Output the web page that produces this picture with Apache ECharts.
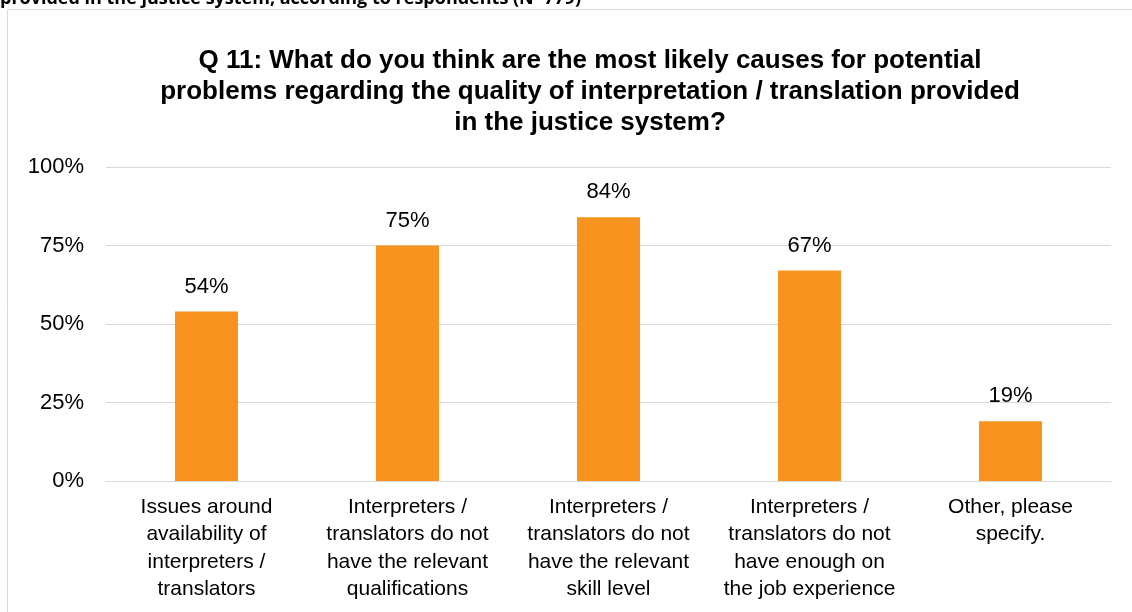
<!DOCTYPE html>
<html>
<head>
<meta charset="utf-8">
<style>
  html, body { margin: 0; padding: 0; background: #ffffff; }
  #chart { width: 1132px; height: 612px; }
</style>
<script src="https://cdn.jsdelivr.net/npm/echarts@6/dist/echarts.min.js"></script>
</head>
<body>
<div id="chart"></div>
<script>
// Survey question Q 11: likely causes of interpretation / translation quality problems
const categories = [
  'Issues around\navailability of\ninterpreters /\ntranslators',
  'Interpreters /\ntranslators do not\nhave the relevant\nqualifications',
  'Interpreters /\ntranslators do not\nhave the relevant\nskill level',
  'Interpreters /\ntranslators do not\nhave enough on\nthe job experience',
  'Other, please\nspecify.'
];
const shares = [54, 75, 84, 67, 19];
const yTicks = [0, 25, 50, 75, 100];

const FONT = '"Liberation Sans", Arial, sans-serif';
const chart = echarts.init(document.getElementById('chart'), null, { renderer: 'canvas' });

chart.setOption({
  backgroundColor: '#ffffff',
  animation: false,
  graphic: [
    {
      type: 'text',
      left: 0,
      top: -10,
      style: {
        text: 'provided in the justice system, according to respondents (N=779)',
        font: 'bold 18px "Open Sans", "Liberation Sans", sans-serif',
        fill: '#000000'
      },
      z: 1
    },
    {
      type: 'rect',
      shape: { x: 7.5, y: 9.5, width: 1140, height: 620 },
      style: { fill: 'none', stroke: '#d9d9d9', lineWidth: 1 },
      z: 0
    }
  ],
  title: {
    text: 'Q 11: What do you think are the most likely causes for potential\nproblems regarding the quality of interpretation / translation provided\nin the justice system?',
    left: 585,
    top: 40,
    textAlign: 'center',
    textStyle: {
      fontFamily: FONT,
      fontSize: 26,
      fontWeight: 'bold',
      color: '#000000',
      lineHeight: 31
    }
  },
  grid: {
    left: 106,
    right: 21,
    top: 167,
    bottom: 131,
    containLabel: false
  },
  xAxis: {
    type: 'category',
    data: categories,
    axisLine: { lineStyle: { color: '#d9d9d9', width: 1 } },
    axisTick: { show: false },
    axisLabel: {
      interval: 0,
      margin: 12,
      fontFamily: FONT,
      fontSize: 21,
      lineHeight: 27.5,
      color: '#000000'
    }
  },
  yAxis: {
    type: 'value',
    min: yTicks[0],
    max: yTicks[yTicks.length - 1],
    interval: 25,
    axisLine: { show: false },
    axisTick: { show: false },
    splitLine: { lineStyle: { color: '#d9d9d9', width: 1 } },
    axisLabel: {
      margin: 22,
      fontFamily: FONT,
      fontSize: 22,
      color: '#000000',
      formatter: v => v + '%'
    }
  },
  series: [
    {
      type: 'bar',
      data: shares,
      barWidth: 63,
      itemStyle: { color: '#f7931e' },
      label: {
        show: true,
        position: 'top',
        distance: 14,
        fontFamily: FONT,
        fontSize: 22,
        color: '#000000',
        formatter: p => p.value + '%'
      }
    }
  ]
});
</script>
</body>
</html>
